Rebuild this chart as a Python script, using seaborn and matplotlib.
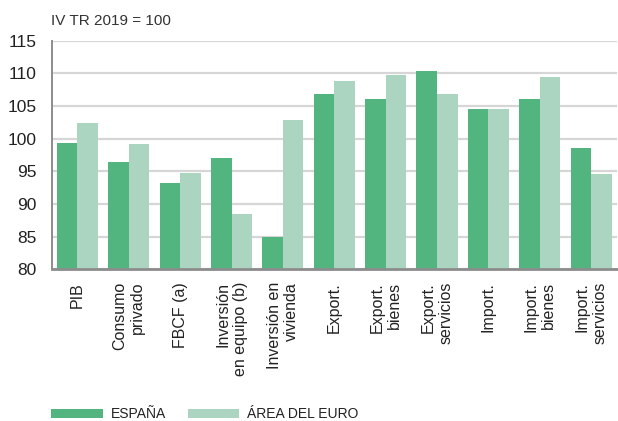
import numpy as np
import pandas as pd
import seaborn as sns
import matplotlib.pyplot as plt
from matplotlib.patches import Patch

categorias = ['PIB', 'Consumo\nprivado', 'FBCF (a)', 'Inversión\nen equipo (b)',
              'Inversión en\nvivienda', 'Export.', 'Export.\nbienes', 'Export.\nservicios',
              'Import.', 'Import.\nbienes', 'Import.\nservicios']
espana = [99.4, 96.4, 93.2, 97.0, 85.0, 106.8, 106.1, 110.3, 104.5, 106.1, 98.6]
area_euro = [102.4, 99.2, 94.7, 88.5, 102.8, 108.9, 109.7, 106.8, 104.6, 109.5, 94.6]
series = ['ESPAÑA', 'ÁREA DEL EURO']
colores = ['#52B580', '#ABD5C0']

df = pd.DataFrame({
    'categoria': categorias * 2,
    'valor': espana + area_euro,
    'serie': [series[0]] * len(categorias) + [series[1]] * len(categorias),
})

sns.set_style('white')
plt.rcParams['font.family'] = ['Liberation Sans', 'DejaVu Sans']

fig = plt.figure(figsize=(6.18, 4.21), dpi=100)
ax = fig.add_axes([0.0837, 0.3603, 0.9143, 0.543])

sns.barplot(data=df, x='categoria', y='valor', hue='serie', palette=colores,
            width=0.8, saturation=1, edgecolor='none', legend=False, ax=ax)

ax.set_ylim(80, 115)
ax.set_xlim(-0.5, len(categorias) - 0.5)
ax.set_yticks(np.arange(80, 116, 5))
ax.set_axisbelow(True)
ax.yaxis.grid(True, color='#d6d6d6', linewidth=1.6)
ax.axhline(100, xmin=0, xmax=(592 - 52) / (617 - 52), color='#8c8c8c',
           linewidth=1.4, zorder=0.5)

ax.set_xlabel('')
ax.set_ylabel('')
ax.tick_params(axis='y', length=0, labelsize=12.5, pad=11, colors='#222222')
ax.set_xticks(range(len(categorias)))
ax.set_xticklabels(categorias, rotation=90, ha='center', va='top',
                   multialignment='right', fontsize=11.5, color='#222222')
ax.tick_params(axis='x', which='major', length=0, pad=9)
ax.set_xticks(np.arange(0.5, len(categorias), 1), minor=True)
ax.tick_params(axis='x', which='minor', direction='in', length=4,
               width=1.2, color='#8c8c8c')

for side in ['top', 'right']:
    ax.spines[side].set_visible(False)
ax.spines['left'].set_color('#8c8c8c')
ax.spines['left'].set_linewidth(1.4)
ax.spines['bottom'].set_color('#8c8c8c')
ax.spines['bottom'].set_linewidth(2.0)

fig.text(0.0825, 0.95, 'IV TR 2019 = 100', fontsize=11, color='#333333',
         va='center', ha='left')

handles = [Patch(facecolor=c, edgecolor='none') for c in colores]
fig.legend(handles, series, loc='center left', bbox_to_anchor=(0.063, 0.016),
           ncol=2, frameon=False, handlelength=3.7, handleheight=0.65,
           handletextpad=0.55, columnspacing=1.6,
           prop={'family': 'Liberation Sans', 'size': 10},
           labelcolor='#222222')

fig.savefig('out.png', dpi=100)
